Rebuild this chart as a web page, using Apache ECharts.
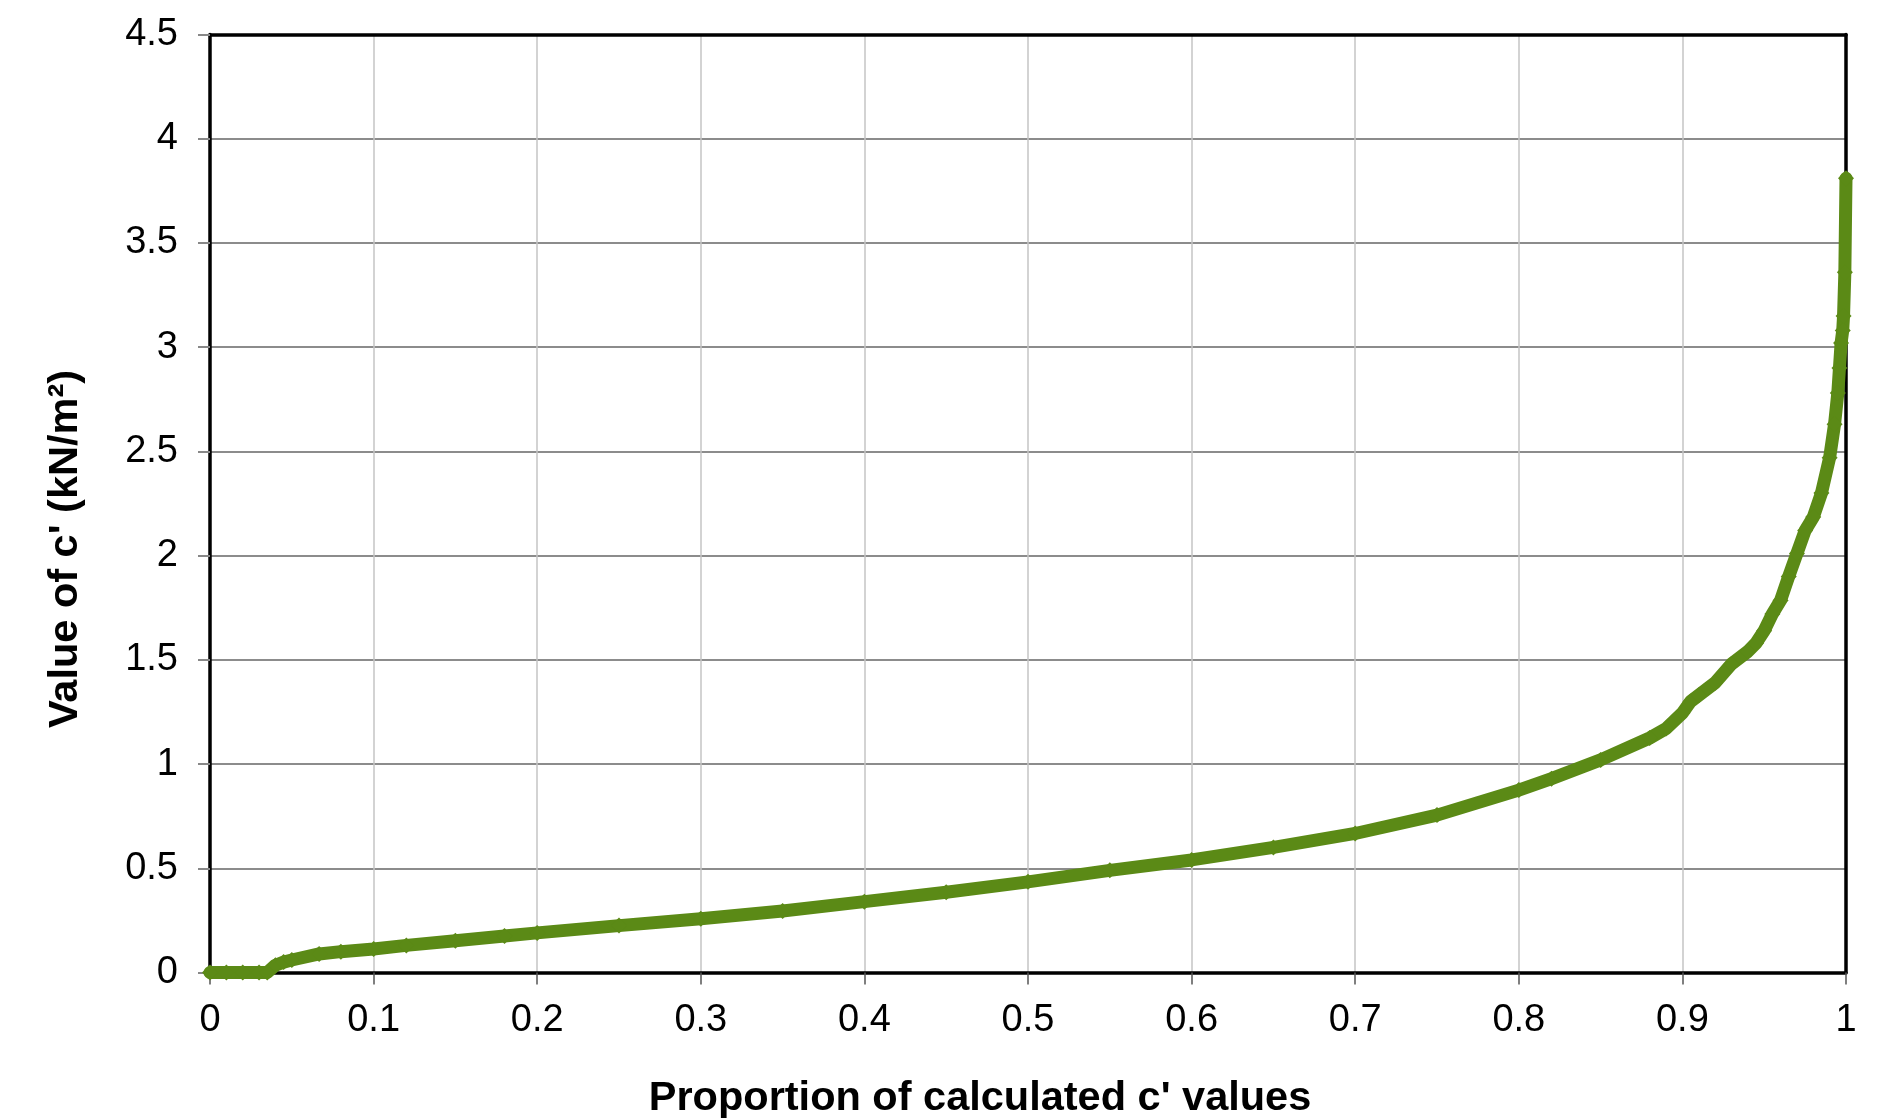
<!DOCTYPE html>
<html>
<head>
<meta charset="utf-8">
<script src="https://cdn.jsdelivr.net/npm/echarts@6/dist/echarts.min.js"></script>
<style>
html,body{margin:0;padding:0;background:#fff;}
#chart{width:1883px;height:1119px;}
</style>
</head>
<body>
<div id="chart"></div>
<script>
const xTicks = [0, 0.1, 0.2, 0.3, 0.4, 0.5, 0.6, 0.7, 0.8, 0.9, 1];
const yTicks = [0, 0.5, 1, 1.5, 2, 2.5, 3, 3.5, 4, 4.5];
const proportion = [0, 0.01, 0.02, 0.03, 0.035, 0.04, 0.045, 0.05, 0.0667, 0.08, 0.1, 0.12, 0.15, 0.18, 0.2, 0.25, 0.3, 0.35, 0.4, 0.45, 0.5, 0.55, 0.6, 0.65, 0.7, 0.75, 0.8, 0.82, 0.85, 0.88, 0.89, 0.9, 0.905, 0.91, 0.92, 0.93, 0.94, 0.945, 0.95, 0.955, 0.96, 0.965, 0.97, 0.975, 0.98, 0.985, 0.99, 0.993, 0.995, 0.996, 0.997, 0.998, 0.9985, 0.9993, 1.0];
const cValue = [0, 0, 0, 0, 0, 0.035, 0.05, 0.06, 0.089, 0.1, 0.113, 0.13, 0.152, 0.175, 0.19, 0.225, 0.258, 0.295, 0.34, 0.385, 0.435, 0.49, 0.54, 0.6, 0.667, 0.755, 0.875, 0.93, 1.02, 1.125, 1.17, 1.245, 1.3, 1.33, 1.39, 1.48, 1.54, 1.58, 1.64, 1.72, 1.785, 1.9, 2.01, 2.12, 2.185, 2.3, 2.47, 2.63, 2.78, 2.9, 3.02, 3.08, 3.15, 3.36, 3.81];
const xTitle = "Proportion of calculated c' values";
const yTitle = "Value of c' (kN/m²)";

const data = proportion.map((p, i) => [p, cValue[i]]);
const green = '#5b8a16';
const font = 'Liberation Sans, Arial, sans-serif';
const pick = (arr) => v => { const t = arr.find(k => Math.abs(k - v) < 1e-9); return t === undefined ? '' : String(t); };

const chart = echarts.init(document.getElementById('chart'));
chart.setOption({
  animation: false,
  backgroundColor: '#ffffff',
  grid: {left: 210, right: 37, top: 34.5, bottom: 146.5},
  title: {
    text: xTitle, left: 975, top: 1073, textAlign: 'center',
    textStyle: {fontFamily: font, fontWeight: 'bold', fontSize: 41.5, color: '#000'}
  },
  graphic: [{
    type: 'text', x: 66, y: 549, rotation: Math.PI / 2,
    style: {text: yTitle, font: 'bold 41.5px "Liberation Sans", Arial, sans-serif', fill: '#000', textAlign: 'center', textVerticalAlign: 'middle'}
  }],
  xAxis: [{
    type: 'value', min: 0, max: 1, interval: 0.1,
    axisLine: {show: true, onZero: false, lineStyle: {color: '#000', width: 3.5}},
    axisTick: {show: true, length: 12, lineStyle: {color: '#555', width: 1.5}},
    axisLabel: {margin: 29, fontSize: 38, fontFamily: font, color: '#000', formatter: pick(xTicks)},
    splitLine: {show: true, lineStyle: {color: '#c4c4c4', width: 1.5}}
  }, {
    type: 'value', position: 'top', min: 0, max: 1, interval: 0.1,
    axisLine: {show: true, onZero: false, lineStyle: {color: '#000', width: 3.5}},
    axisTick: {show: false}, axisLabel: {show: false}, splitLine: {show: false}
  }],
  yAxis: [{
    type: 'value', min: 0, max: 4.5, interval: 0.5,
    axisLine: {show: true, onZero: false, lineStyle: {color: '#000', width: 3.5}},
    axisTick: {show: true, length: 12, lineStyle: {color: '#888', width: 2}},
    axisLabel: {margin: 32, fontSize: 38, fontFamily: font, color: '#000', formatter: pick(yTicks)},
    splitLine: {show: true, lineStyle: {color: '#8c8c8c', width: 2}}
  }, {
    type: 'value', position: 'right', min: 0, max: 4.5, interval: 0.5,
    axisLine: {show: true, onZero: false, lineStyle: {color: '#000', width: 3.5}},
    axisTick: {show: false}, axisLabel: {show: false}, splitLine: {show: false}
  }],
  series: [{
    type: 'line',
    data: data,
    symbol: 'diamond',
    symbolSize: 16,
    showAllSymbol: true,
    itemStyle: {color: green},
    lineStyle: {color: green, width: 13, join: 'round', cap: 'round'},
    smooth: false,
    z: 5
  }]
});
</script>
</body>
</html>
